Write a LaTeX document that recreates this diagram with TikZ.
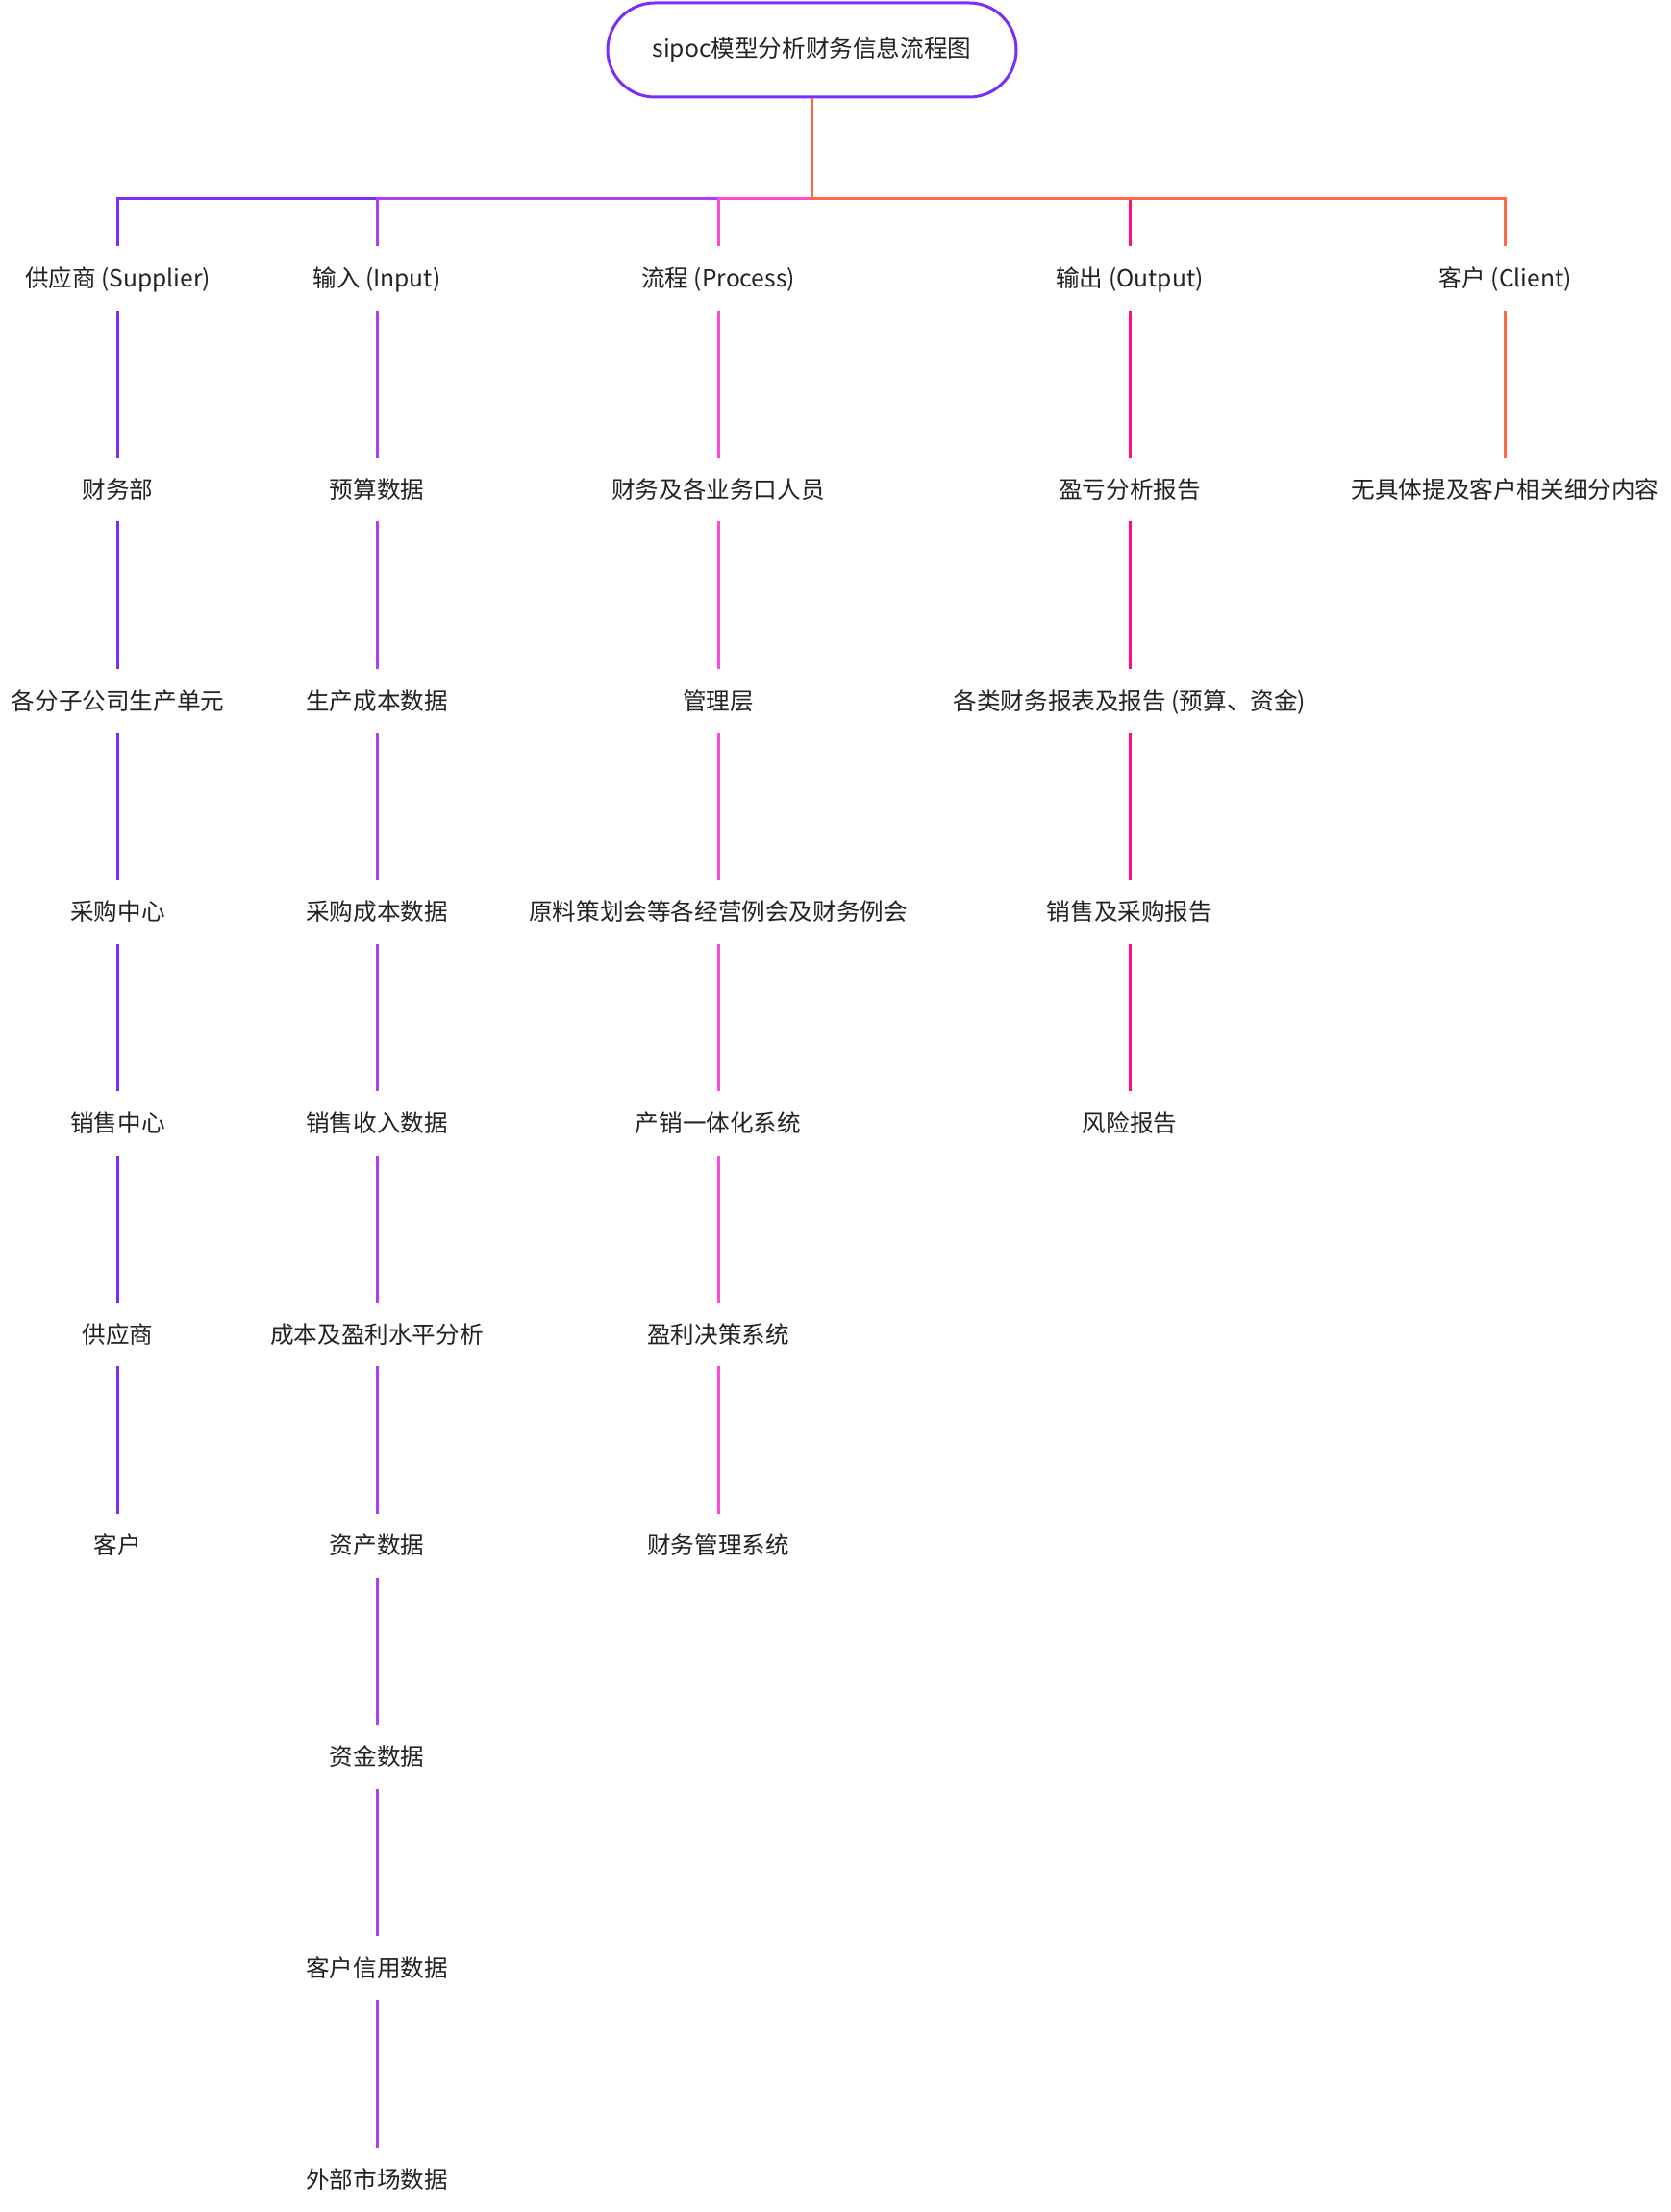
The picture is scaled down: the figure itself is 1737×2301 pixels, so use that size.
\documentclass[tikz,border=0pt]{standalone}
\usepackage{fontspec}
\setmainfont{Noto Sans CJK SC}
\definecolor{cS}{HTML}{7A2CF8}
\definecolor{cI}{HTML}{B43AF3}
\definecolor{cP}{HTML}{FF48DC}
\definecolor{cO}{HTML}{FF0E80}
\definecolor{cC}{HTML}{FF6840}
\definecolor{txt}{HTML}{222222}
\tikzset{
  lbl/.style={inner sep=0pt, minimum height=66pt, text height=21.5pt, text depth=3.1pt, text=txt, font=\fontsize{24.6}{30}\selectfont},
  rootbox/.style={draw=cS, line width=3pt, rounded corners=49pt, minimum width=425pt, minimum height=98pt, inner sep=0pt, text=txt, font=\fontsize{24.6}{30}\selectfont},
  link/.style={line width=3pt}
}
\begin{document}
\begin{tikzpicture}[x=1pt,y=-1pt]
\useasboundingbox (0,0) rectangle (1737,2301);
\node[rootbox] (root) at (844.5,52) {sipoc模型分析财务信息流程图};
\coordinate (bus) at (844.5,207);
% columns
\foreach \t [count=\k from 0] in {供应商 (Supplier),财务部,各分子公司生产单元,采购中心,销售中心,供应商,客户}
  \node[lbl] (s\k) at (122.5,{289.5+219.7*\k}) {\t};
\foreach \t [count=\k from 0] in {输入 (Input),预算数据,生产成本数据,采购成本数据,销售收入数据,成本及盈利水平分析,资产数据,资金数据,客户信用数据,外部市场数据}
  \node[lbl] (i\k) at (392,{289.5+219.7*\k}) {\t};
\foreach \t [count=\k from 0] in {流程 (Process),财务及各业务口人员,管理层,原料策划会等各经营例会及财务例会,产销一体化系统,盈利决策系统,财务管理系统}
  \node[lbl] (p\k) at (747,{289.5+219.7*\k}) {\t};
\foreach \t [count=\k from 0] in {输出 (Output),盈亏分析报告,各类财务报表及报告 (预算、资金),销售及采购报告,风险报告}
  \node[lbl] (o\k) at (1175,{289.5+219.7*\k}) {\t};
\foreach \t [count=\k from 0] in {客户 (Client),无具体提及客户相关细分内容}
  \node[lbl] (c\k) at (1565.5,{289.5+219.7*\k}) {\t};
% chains
\foreach \k in {1,...,6}{\pgfmathtruncatemacro\j{\k-1}\draw[link,cS] (s\j.south) -- (s\k.north);}
\foreach \k in {1,...,9}{\pgfmathtruncatemacro\j{\k-1}\draw[link,cI] (i\j.south) -- (i\k.north);}
\foreach \k in {1,...,6}{\pgfmathtruncatemacro\j{\k-1}\draw[link,cP] (p\j.south) -- (p\k.north);}
\foreach \k in {1,...,4}{\pgfmathtruncatemacro\j{\k-1}\draw[link,cO] (o\j.south) -- (o\k.north);}
\draw[link,cC] (c0.south) -- (c1.north);
% root to columns
\draw[link,cS] (root.south) -- (bus) -| (s0.north);
\draw[link,cI] (root.south) -- (bus) -| (i0.north);
\draw[link,cP] (root.south) -- (bus) -| (p0.north);
\draw[link,cO] (root.south) -- (bus) -| (o0.north);
\draw[link,cC] (root.south) -- (bus) -| (c0.north);
\end{tikzpicture}
\end{document}
